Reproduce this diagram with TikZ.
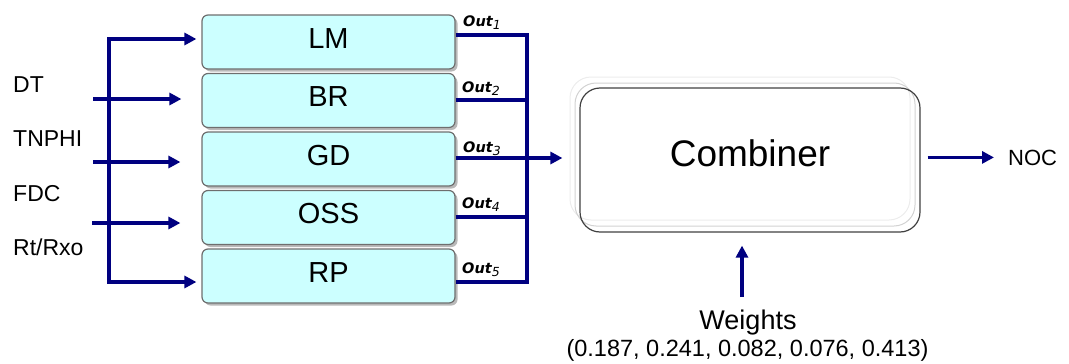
\documentclass[tikz,border=0pt]{standalone}
\usepackage{fontspec}
\setmainfont{Liberation Sans}
\newfontfamily\outfont{DejaVu Sans}
\usetikzlibrary{arrows.meta,shadows}
\definecolor{wireblue}{RGB}{0,0,128}
\definecolor{boxcyan}{RGB}{204,255,255}
\definecolor{boxedge}{RGB}{110,110,110}
\newcommand\outidx[1]{\raisebox{-3pt}{\fontsize{12.5}{12.5}\selectfont\mdseries #1}}
\begin{document}
\begin{tikzpicture}[x=1pt,y=-1pt,
  wire/.style={draw=wireblue,line width=3.2pt},
  arr/.style={wire,-{Triangle[length=12pt,width=12pt]}},
  model/.style={draw=boxedge,line width=1.2pt,fill=boxcyan,rounded corners=6pt,
    minimum width=253pt,minimum height=54pt,inner sep=0pt,
    font=\fontsize{29}{29}\selectfont,text height=21pt,text depth=9pt,
    drop shadow={shadow xshift=2.5pt,shadow yshift=-2.5pt,fill=black!50,opacity=0.55}},
  inlabel/.style={anchor=base west,inner sep=0pt,font=\fontsize{23}{23}\selectfont},
  outlabel/.style={anchor=base west,inner sep=0pt,font=\outfont\bfseries\itshape\fontsize{14.5}{14.5}\selectfont},
  ghost/.style={line width=1pt,rounded corners=21pt},
]
\useasboundingbox (0,0) rectangle (1069,364);

% model boxes
\node[model] (lm)  at (328.5,42)    {LM};
\node[model] (br)  at (328.5,100.5) {BR};
\node[model] (gd)  at (328.5,159)   {GD};
\node[model] (oss) at (328.5,217.5) {OSS};
\node[model] (rp)  at (328.5,276)   {RP};

% combiner with its soft outer rims
\draw[ghost,draw=gray!15] (570,77) rectangle (910,220);
\draw[ghost,draw=gray!35] (575,83) rectangle (915,226);
\node[draw=black!75,line width=1.2pt,rounded corners=20pt,
  minimum width=340pt,minimum height=144pt,inner sep=0pt,
  font=\fontsize{37}{37}\selectfont,text height=27pt,text depth=15pt]
  (comb) at (750,160) {Combiner};

% input labels
\node[inlabel] (dt)    at (13,92)  {DT};
\node[inlabel] (tnphi) at (13,146) {TNPHI};
\node[inlabel] (fdc)   at (13,201) {FDC};
\node[inlabel] (rtrxo) at (13,255) {Rt/Rxo};

% input bus
\coordinate (busT) at (109,39);
\coordinate (busB) at (109,282);
\draw[arr,shorten >=5pt] (busB) -- (busT) -- (busT -| lm.west);
\draw[arr,shorten >=5pt] (busT) -- (busB) -- (busB -| rp.west);
\coordinate (dtin) at (93,99);
\coordinate (tnin) at (93,162);
\coordinate (fdin) at (92,223);
\draw[arr,shorten >=20pt] (dtin) -- (dtin -| br.west);
\draw[arr,shorten >=21pt] (tnin) -- (tnin -| gd.west);
\draw[arr,shorten >=21pt] (fdin) -- (fdin -| oss.west);

% output bus
\coordinate (o1) at (527,35);
\coordinate (o2) at (527,100);
\coordinate (o3) at (527,158);
\coordinate (o4) at (527,217);
\coordinate (o5) at (527,282);
\draw[wire] (lm.east |- o1) -- (o1) -- (o5) -- (rp.east |- o5);
\draw[wire] (br.east |- o2) -- (o2);
\draw[wire] (oss.east |- o4) -- (o4);
\draw[arr,shorten >=17pt] (gd.east |- o3) -- (comb.west |- o3);

% output labels
\node[outlabel] (out1) at (463,26)  {Out\outidx{1}};
\node[outlabel] (out2) at (462,92)  {Out\outidx{2}};
\node[outlabel] (out3) at (463,152) {Out\outidx{3}};
\node[outlabel] (out4) at (462,208) {Out\outidx{4}};
\node[outlabel] (out5) at (462,273) {Out\outidx{5}};

% result
\node[anchor=base west,inner sep=0pt,font=\fontsize{22}{22}\selectfont] (noc) at (1008,165) {NOC};
\draw[arr,shorten <=7pt,shorten >=14pt] (noc.west -| comb.east) -- (noc.west);

% weights
\node[anchor=base,inner sep=0pt,font=\fontsize{27}{27}\selectfont] (wt) at (748,329) {Weights};
\node[anchor=base,inner sep=0pt,font=\fontsize{23.5}{23.5}\selectfont] (wv) at (747.5,356) {(0.187, 0.241, 0.082, 0.076, 0.413)};
\coordinate (wfoot) at (742,297);
\draw[arr,shorten >=13pt] (wfoot) -- (wfoot |- comb.south);
\end{tikzpicture}
\end{document}
